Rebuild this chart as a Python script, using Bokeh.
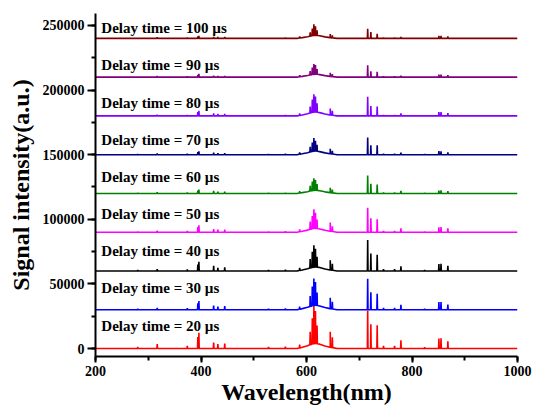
import numpy as np
from bokeh.plotting import figure
from bokeh.models import SingleIntervalTicker, Range1d, BasicTickFormatter
from bokeh.core.properties import value
from bokeh.embed import file_html
from bokeh.resources import INLINE

# ---- data ----
delay_times = [20, 30, 40, 50, 60, 70, 80, 90, 100]
offsets = [0, 30000, 60000, 90000, 120000, 150000, 180000, 210000, 240000]
colors = ["#FF0000", "#0000FF", "#000000", "#FF00FF", "#008000",
          "#000080", "#8000FF", "#800080", "#800000"]

peak_wavelengths = [280, 317, 374, 394, 396, 424, 432, 445, 528, 560, 587,
                    607, 611, 614, 617, 620, 645, 649, 716, 722, 734,
                    746, 767, 779, 824, 851, 855, 868]

# peak heights (a.u.) for each delay time, aligned with peak_wavelengths
heights_20us = [1200, 3500, 2000, 9000, 12300, 4600, 3500, 3800, 1200, 1500, 2500,
                10000, 20000, 29500, 25000, 14000, 12000, 8000, 29500, 18700, 18000,
                2000, 2000, 6400, 1000, 7700, 8000, 5600]
heights_30us = [800, 1500, 1200, 5000, 6700, 3300, 2500, 2800, 800, 1000, 2000,
                8000, 15000, 21000, 18000, 10000, 8500, 5500, 24000, 13600, 12300,
                1500, 1500, 3800, 800, 5900, 6000, 4000]
heights_40us = [800, 1500, 1200, 5000, 7200, 4000, 2500, 2800, 800, 1000, 2000,
                7000, 12000, 17000, 14000, 8000, 7500, 5000, 24000, 13600, 12500,
                1500, 1500, 3600, 800, 5400, 5500, 4000]
heights_50us = [600, 1200, 1000, 4000, 5400, 2500, 2000, 2000, 600, 800, 1800,
                6000, 10000, 15000, 12000, 7000, 6700, 4000, 19000, 10800, 10000,
                1000, 1000, 3000, 600, 3800, 4000, 3000]
heights_60us = [500, 1000, 800, 2200, 3000, 2000, 1500, 1500, 500, 600, 1500,
                4000, 7000, 9500, 8000, 5000, 3800, 2500, 13800, 7500, 7000,
                800, 800, 2000, 500, 2300, 2500, 1800]
heights_70us = [500, 1000, 800, 2000, 2600, 1500, 1200, 1200, 500, 600, 1500,
                4000, 7000, 10200, 8000, 5000, 3800, 2500, 13300, 7200, 7200,
                800, 800, 1500, 500, 2800, 2500, 1800]
heights_80us = [500, 1000, 800, 3000, 4000, 2000, 1500, 1500, 500, 600, 1500,
                5000, 10000, 14000, 12000, 7000, 5000, 3500, 14800, 7700, 7200,
                800, 800, 2000, 500, 3000, 3000, 2200]
heights_90us = [400, 800, 600, 1800, 2500, 1200, 1000, 1000, 400, 500, 1200,
                3000, 5500, 8000, 7000, 4000, 2800, 2000, 9200, 4600, 4100,
                600, 600, 1200, 400, 2000, 2000, 1500]
heights_100us = [400, 800, 600, 1500, 2000, 1200, 1000, 1000, 400, 500, 1200,
                 3000, 5500, 8700, 7000, 4000, 2800, 2000, 7500, 4800, 3600,
                 600, 600, 1200, 400, 2000, 2000, 1500]
all_heights = [heights_20us, heights_30us, heights_40us, heights_50us, heights_60us,
               heights_70us, heights_80us, heights_90us, heights_100us]

# broad molecular band under the 600-650 nm lines
band_wavelengths = [200, 582, 592, 602, 610, 617, 625, 635, 645, 658, 1000]
band_shape = [0, 0, 0.25, 0.55, 0.85, 1.0, 0.85, 0.5, 0.25, 0, 0]
band_heights = [4000, 3500, 3200, 3000, 2500, 2800, 3000, 2300, 2300]

y_ticks_interval = 50000
x_ticks_interval = 200

# ---- figure ----
p = figure(width=533, height=407, output_backend="svg", toolbar_location=None,
           x_range=Range1d(200, 1000), y_range=Range1d(-6150, 259230),
           min_border_left=95, min_border_right=16, min_border_top=13,
           min_border_bottom=49)
p.outline_line_color = None
p.xgrid.visible = False
p.ygrid.visible = False
p.background_fill_color = "white"
p.border_fill_color = "white"

half = 0.6
for i, (d, off, col) in enumerate(zip(delay_times, offsets, colors)):
    hts = all_heights[i]
    band = [s * band_heights[i] for s in band_shape]
    xs = list(band_wavelengths)
    ys = list(band)
    for w, h in zip(peak_wavelengths, hts):
        b = float(np.interp(w, band_wavelengths, band))
        xs += [w - half, w, w + half]
        ys += [b, b + h, b]
    order = np.argsort(xs, kind="stable")
    xs = [xs[k] for k in order]
    ys = [ys[k] + off for k in order]
    p.line(xs, ys, line_color=col, line_width=1.6)

    label_y = off + 17700 - 1230 * i
    p.text(x=[211], y=[label_y], text=[f"Delay time = {d} \u00b5s"],
           text_font=value("Liberation Serif"), text_font_style="bold",
           text_font_size="15px", text_color="#000000",
           text_baseline="middle", text_align="left")

for ax in (p.xaxis[0], p.yaxis[0]):
    ax.axis_line_width = 2
    ax.axis_line_color = "black"
    ax.major_tick_line_width = 2
    ax.minor_tick_line_width = 2
    ax.major_tick_in = 0
    ax.minor_tick_in = 0
    ax.major_label_text_font = "Liberation Serif"
    ax.major_label_text_font_style = "bold"
    ax.major_label_text_font_size = "14px"
    ax.major_label_text_color = "black"
    ax.axis_label_text_font = "Liberation Serif"
    ax.axis_label_text_font_style = "bold"
    ax.axis_label_text_color = "black"

p.xaxis.ticker = SingleIntervalTicker(interval=x_ticks_interval, num_minor_ticks=2)
p.yaxis.ticker = SingleIntervalTicker(interval=y_ticks_interval, num_minor_ticks=2)
p.yaxis.formatter = BasicTickFormatter(use_scientific=False)

p.xaxis.major_tick_out = 6
p.xaxis.minor_tick_out = 4
p.xaxis.major_label_standoff = 3
p.xaxis.axis_label = "Wavelength(nm)"
p.xaxis.axis_label_text_font_size = "24px"
p.xaxis.axis_label_standoff = 0

p.yaxis.major_tick_out = 8
p.yaxis.minor_tick_out = 4
p.yaxis.major_label_standoff = 3
p.yaxis.axis_label = "Signal intensity(a.u.)"
p.yaxis.axis_label_text_font_size = "24px"
p.yaxis.axis_label_standoff = 6

open("out.html", "w").write(file_html(p, INLINE))
